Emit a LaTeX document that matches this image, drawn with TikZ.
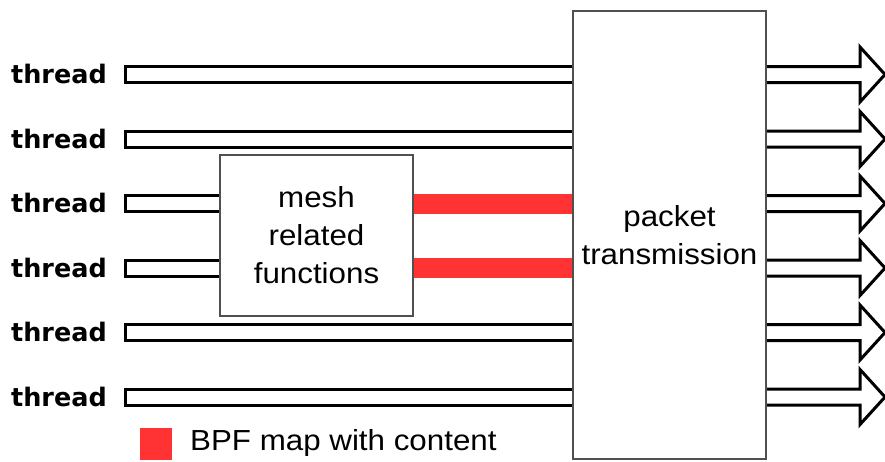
\documentclass[tikz,border=0pt]{standalone}
\usepackage{fontspec}
\setmainfont{Liberation Sans}
\newfontfamily\labelfont[FakeStretch=1.08]{Liberation Sans}
\newfontfamily\threadfont{DejaVu Sans}
\usetikzlibrary{calc}
\definecolor{mapred}{HTML}{FF3333}
\definecolor{boxgray}{HTML}{505050}
\pgfdeclarelayer{back}
\pgfsetlayers{back,main}
\begin{document}
\begin{tikzpicture}[x=1pt,y=-1pt,
  hollow/.style={draw=black, line width=3pt, fill=white, line join=miter},
  block/.style={draw=boxgray, line width=2pt, fill=white, rectangle, inner sep=0pt,
    align=center, font=\labelfont\fontsize{29}{38}\selectfont},
  tlabel/.style={anchor=base east, inner sep=0pt,
    font=\threadfont\bfseries\fontsize{25.5}{30}\selectfont},
  mapbar/.style={draw=mapred, line width=20pt},
  keytext/.style={anchor=base west, inner sep=0pt, font=\labelfont\fontsize{29}{38}\selectfont},
]
\useasboundingbox (0,0) rectangle (885,461);

% thread rows: start of each input bar and tip of each output arrow
\foreach \i/\y in {1/74.5,2/139,3/203.5,4/268,5/332.5,6/397} {
  \coordinate (s\i) at (125,\y);
  \coordinate (r\i) at (885,\y);
}

% processing blocks
\node[block, minimum width=193pt, minimum height=161pt] (mesh) at (316.5,235.5)
  {mesh\\related\\functions};
\node[block, minimum width=193pt, minimum height=448pt] (pkt) at (669.5,235)
  {packet\\transmission};

% thread labels
\foreach \i in {1,...,6}
  \node[tlabel] (t\i) at ($(s\i)+(-18,9)$) {thread};

\begin{pgfonlayer}{back}
  % input bars, each ending at the block it feeds
  \foreach \i/\tgt in {1/pkt,2/pkt,3/mesh,4/mesh,5/pkt,6/pkt}
    \draw[hollow] ($(\tgt.west|-s\i)+(0,-8)$) -- ($(s\i)+(0,-8)$)
      -- ($(s\i)+(0,8)$) -- ($(\tgt.west|-s\i)+(0,8)$);
  % BPF maps between mesh functions and packet transmission
  \foreach \i in {3,4}
    \draw[mapbar] (mesh.east|-s\i) -- (pkt.west|-s\i);
  % output arrows
  \foreach \i in {1,...,6}
    \draw[hollow] ($(pkt.east|-r\i)+(0,-8)$) -- ($(r\i)+(-25,-8)$)
      -- ($(r\i)+(-25,-27.5)$) -- (r\i) -- ($(r\i)+(-25,27.5)$)
      -- ($(r\i)+(-25,8)$) -- ($(pkt.east|-r\i)+(0,8)$);
\end{pgfonlayer}

% legend
\node[fill=mapred, minimum size=32pt, inner sep=0pt, anchor=north west] (key) at (140,428) {};
\node[keytext] (keylabel) at (190,450.7) {BPF map with content};
\end{tikzpicture}
\end{document}
